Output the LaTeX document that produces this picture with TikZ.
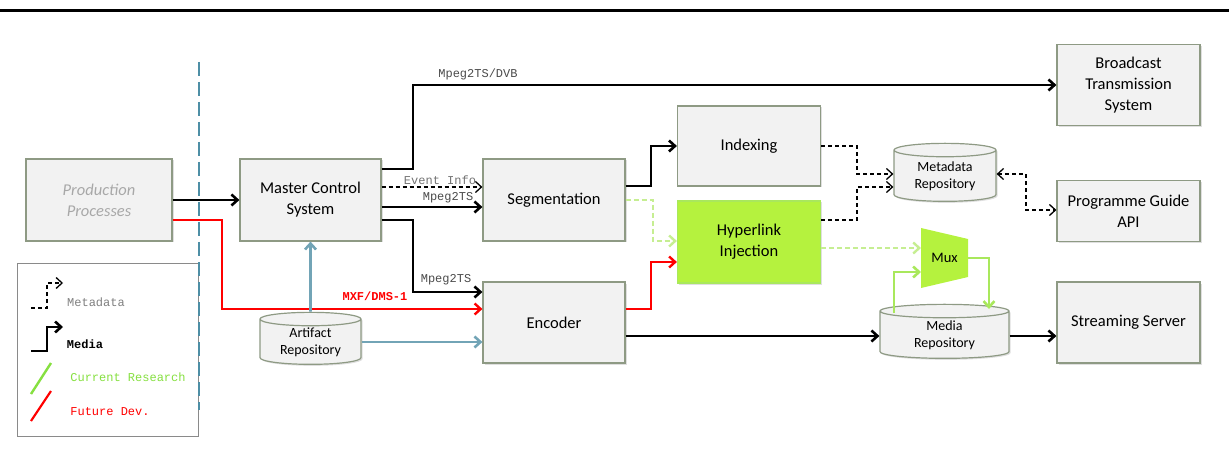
\documentclass[tikz,border=0pt]{standalone}
\usepackage{fontspec}
\setmainfont{Carlito}
\newfontfamily\labelmono{Liberation Mono}
\usetikzlibrary{shapes.geometric,arrows.meta,shadows}

\definecolor{boxfill}{HTML}{F2F2F2}
\definecolor{boxline}{HTML}{8E9A84}
\definecolor{limefill}{HTML}{B5F23E}
\definecolor{limeline}{HTML}{A9E85C}
\definecolor{limedash}{HTML}{C6EE92}
\definecolor{limetext}{HTML}{86E040}
\definecolor{artiblue}{HTML}{72A4B6}
\definecolor{sepblue}{HTML}{4E8FA6}
\definecolor{labelgray}{HTML}{4A4A4A}
\definecolor{prodgray}{HTML}{A8A8A8}
\definecolor{legendline}{HTML}{8A8A8A}

\newcommand\blockfont{\fontsize{16.5}{21}\selectfont}
\newcommand\storefont{\fontsize{14}{17}\selectfont}

\tikzset{
  block/.style={draw=boxline,fill=boxfill,line width=1.2pt,minimum width=143pt,
    minimum height=82pt,inner sep=0pt,align=center,font=\blockfont,
    drop shadow={shadow xshift=1.5pt,shadow yshift=-1.5pt,opacity=0.25}},
  store/.style={cylinder,shape border rotate=90,aspect=0.22,draw=boxline,fill=boxfill,
    line width=1.2pt,inner sep=0pt,align=center,font=\storefont,
    drop shadow={shadow xshift=1.5pt,shadow yshift=-1.5pt,opacity=0.25}},
  media/.style={black,line width=2.6pt,->},
  meta/.style={black,line width=1.3pt,dash pattern=on 4pt off 3pt,->},
  future/.style={red,line width=2.4pt,->},
  research/.style={limeline,line width=2.6pt,->},
  researchdash/.style={limedash,line width=2.4pt,dash pattern=on 5pt off 3pt,->},
  artifact/.style={artiblue,line width=2.6pt,->},
  tag/.style={inner sep=0pt,text=labelgray,font=\labelmono\fontsize{12}{14}\selectfont},
}

\begin{document}
\begin{tikzpicture}[x=1pt,y=-1pt,>={Straight Barb[length=6pt,width=11pt]},line join=miter]
\useasboundingbox (0,0) rectangle (1229,465);
\draw[line width=3pt] (0,11) -- (1229,11);
%%
\node (prod) at (99,200) [block,font=\blockfont\itshape,text=prodgray,minimum width=146pt] {Production\\Processes};
  \node (mcs) at (310.5,200) [block,minimum width=141pt] {Master Control\\System};
  \node (seg) at (554,200) [block,minimum width=142pt] {Segmentation};
  \node (idx) at (749,146) [block,minimum height=80pt] {Indexing};
  \node (hyp) at (749,242) [block,fill=limefill,draw=limeline] {Hyperlink\\Injection};
  \node (bts) at (1128.5,85) [block,minimum height=81pt] {Broadcast\\Transmission\\System};
  \node (pga) at (1128.5,211) [block,minimum height=61pt] {Programme Guide\\API};
  \node (enc) at (554,322.5) [block,minimum width=142pt,minimum height=81pt] {Encoder};
  \node (sts) at (1128.5,322.5) [block,minimum height=81pt] {Streaming Server};
  \node (meta) at (945,176) [store,minimum width=102pt,minimum height=58pt] {Metadata\\Repository};
  \node (arti) at (310.5,342) [store,minimum width=101pt,minimum height=52pt] {Artifact\\Repository};
  \node (mdia) at (944.5,335) [store,minimum width=129pt,minimum height=54pt] {Media\\Repository};
%% mux
\fill[limefill] (921,228) -- (968,239) -- (968,277) -- (921,288) -- cycle;
  \node (mux) at (944.5,258) [font=\fontsize{14.5}{16}\selectfont] {Mux};
  \coordinate (mux_in1) at (921,248);
  \coordinate (mux_in2) at (921,272);
  \coordinate (mux_out) at (968,258);
  \coordinate (mdia_tap) at (894,313);
  \coordinate (mdia_in) at (989,309);
%% legend
\node (legend) at (107.5,349.5) [draw=legendline,fill=white,line width=1pt,minimum width=181pt,minimum height=173pt] {};
  \draw[meta] (31,308) -- (47,308) -- (47,283) -- (63,283);
  \node (leg_meta) at (96,302) [tag,text=gray] {Metadata};
  \draw[media] (31,351) -- (47,351) -- (47,327) -- (63,327);
  \node (leg_media) at (85,344) [tag,text=black,font=\labelmono\bfseries\fontsize{12}{14}\selectfont] {Media};
  \draw[limetext,line width=2.4pt] (31,394) -- (51,363);
  \node (leg_res) at (128,377) [tag,text=limetext] {Current Research};
  \draw[red,line width=2.2pt] (31,421) -- (51,391);
  \node (leg_fut) at (110,412) [tag,text=red] {Future Dev.};
%% separator
\draw[sepblue,line width=2pt,dash pattern=on 14pt off 6pt] (199,62) -- (199,410);
%% connectors
\draw [media] (prod) -- (mcs);
  \draw [media] (mcs.east |- 0,169) -- (413,169) |- (bts);
  \draw [meta] (mcs.east |- 0,187) -- (seg.west |- 0,187);
  \draw [media] (mcs.east |- 0,207) -- (seg.west |- 0,207);
  \draw [media] (mcs.east |- 0,220) -- (413,220) |- (enc.west |- 0,292);
  \draw [future] (prod.east |- 0,220) -- (222,220) |- (enc.west |- 0,309);
  \draw [artifact] (arti) -- (mcs);
  \draw [artifact] (arti.east) -- (arti.east -| enc.west);
  \draw [media] (seg.east |- 0,186) -- (651,186) |- (idx);
  \draw [researchdash] (seg.east) -- (653,200) |- (hyp.west |- 0,241);
  \draw [future] (enc.east |- 0,309) -- (651,309) |- (hyp.west |- 0,262);
  \draw [meta] (idx.east |- 0,146) -- (857,146) |- (meta.west |- 0,174);
  \draw [meta] (hyp.east |- 0,220) -- (857,220) |- (meta.west |- 0,187);
  \draw [meta,<->] (meta.east |- 0,174) -- (1026,174) |- (pga.west |- 0,210);
  \draw [researchdash] (hyp.east |- mux_in1) -- (mux_in1);
  \draw [research] (mdia_tap) |- (mux_in2);
  \draw [research] (mux_out) -| (mdia_in);
  \draw [media] (enc.east |- 0,336) -- (mdia.west |- 0,336);
  \draw [media] (mdia.east |- 0,336) -- (sts.west |- 0,336);
%% labels
\node (lbl_dvb) at (478,74) [tag] {Mpeg2TS/DVB};
  \node (lbl_evt) at (440,180) [tag,text=gray!90!black] {Event Info};
  \node (lbl_ts1) at (448,198) [tag] {Mpeg2TS};
  \node (lbl_ts2) at (446,280) [tag] {Mpeg2TS};
  \node (lbl_mxf) at (375,296) [tag,text=red,font=\labelmono\bfseries\fontsize{12}{14}\selectfont] {MXF/DMS-1};
%
\end{tikzpicture}
\end{document}
